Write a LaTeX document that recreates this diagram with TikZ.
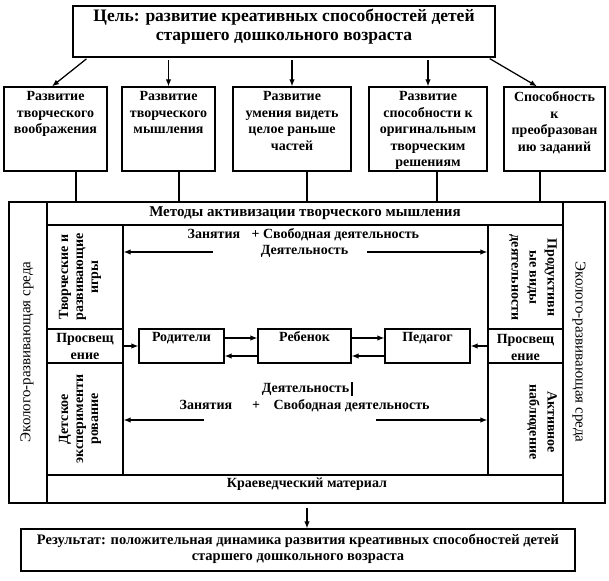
\documentclass[tikz,border=0pt]{standalone}
\usepackage{fontspec}
\setmainfont{Liberation Serif}
\usetikzlibrary{arrows.meta}
\begin{document}
\begin{tikzpicture}[x=1pt,y=-1pt,line width=1.25pt,
  cell/.style 2 args={draw,inner sep=0pt,minimum width=#1,minimum height=#2},
  lbl/.style={inner sep=0pt,font=\bfseries\fontsize{14}{16.5}\selectfont,align=center},
  eco/.style={inner sep=0pt,font=\fontsize{15}{17}\selectfont},
  arr/.style={-{Latex[length=7pt,width=5.5pt]}}]
\fill[white] (0,0) rectangle (609,580);
\useasboundingbox (0,0) rectangle (609,580);

% goal
\node[cell={422pt}{51pt}] (goal) at (284,31.5) {};
\node[lbl,font=\bfseries\fontsize{17.5}{19}\selectfont] (goalT) at (284,27) {Цель: развитие креативных способностей детей\\старшего дошкольного возраста};

% five boxes
\node[cell={103pt}{84pt}] (b1) at (55.5,129) {};
\node[cell={93pt}{84pt}] (b2) at (168.5,129) {};
\node[cell={118pt}{84pt}] (b3) at (292,129) {};
\node[cell={118pt}{84pt}] (b4) at (428,129) {};
\node[cell={101pt}{84pt}] (b5) at (554.5,129) {};
\node[lbl,anchor=north] (b1t) at (b1.north |- 0,91) {Развитие\\творческого\\воображения};
\node[lbl,anchor=north] (b2t) at (b2.north |- 0,91) {Развитие\\творческого\\мышления};
\node[lbl,anchor=north] (b3t) at (b3.north |- 0,91) {Развитие\\умения видеть\\целое раньше\\частей};
\node[lbl,anchor=north] (b4t) at (b4.north |- 0,91) {Развитие\\способности к\\оригинальным\\творческим\\решениям};
\node[lbl,anchor=north] (b5t) at (b5.north |- 0,91) {Способность\\к\\преобразован\\ию заданий};

% arrows from goal
\draw[arr,shorten <=2pt] (goal.south -| 88,0) -- (b1.north -| 52,0);
\draw[arr,shorten <=2pt] (goal.south -| b2.north) -- (b2.north);
\draw[arr,shorten <=2pt] (goal.south -| b3.north) -- (b3.north);
\draw[arr,shorten <=2pt] (goal.south -| b4.north) -- (b4.north);
\draw[arr,shorten <=2pt] (goal.south -| 488,0) -- (b5.north -| 537,0);

% frame and cells
\node[cell={596pt}{301pt}] (frame) at (307,352.5) {};
\node[cell={38pt}{301pt}] (ecoL) at (28,352.5) {};
\node[cell={42pt}{301pt}] (ecoR) at (584,352.5) {};
\node[cell={516pt}{23pt}] (met) at (305,213.5) {};
\node[cell={516pt}{28pt}] (kra) at (305,489) {};
\node[cell={76pt}{104pt}] (igry) at (85,277) {};
\node[cell={76pt}{34pt}] (prL) at (85,346) {};
\node[cell={76pt}{112pt}] (eks) at (85,419) {};
\node[cell={75pt}{104pt}] (prod) at (525.5,277) {};
\node[cell={75pt}{34pt}] (prR) at (525.5,346) {};
\node[cell={75pt}{112pt}] (nab) at (525.5,419) {};

% lines from boxes to frame
\draw (b1.south -| 76,0) -- (frame.north -| 76,0);
\draw (b2.south -| 179,0) -- (frame.north -| 179,0);
\draw (b3.south -| 307,0) -- (frame.north -| 307,0);
\draw (b4.south -| 437,0) -- (frame.north -| 437,0);
\draw (b5.south -| 540,0) -- (frame.north -| 540,0);

% frame texts
\node[eco,rotate=90] (ecoLt) at (27,352) {Эколого-развивающая среда};
\node[eco,rotate=-90] (ecoRt) at (579,352) {Эколого-развивающая среда};
\node[lbl,font=\bfseries\fontsize{15}{17}\selectfont] (metT) at (305,213) {Методы активизации творческого мышления};
\node[lbl] (kraT) at (307,484) {Краеведческий материал};
\node[lbl,rotate=90,font=\bfseries\fontsize{14}{15}\selectfont] (igryT) at (80,277) {Творческие и\\развивающие\\игры};
\node[lbl,rotate=90,font=\bfseries\fontsize{14}{15}\selectfont] (eksT) at (80,419) {Детское\\эксперименти\\рование};
\node[lbl,rotate=-90,font=\bfseries\fontsize{14}{18}\selectfont] (prodT) at (533,277.5) {Продуктивн\\ые виды\\деятельности};
\node[lbl,rotate=-90,font=\bfseries\fontsize{14}{18}\selectfont] (nabT) at (542,422) {Активное\\наблюдение};
\node[lbl,font=\bfseries\fontsize{14}{17}\selectfont] (prLT) at (85,346.5) {Просвещ\\ение};
\node[lbl,font=\bfseries\fontsize{14}{17}\selectfont] (prRT) at (525.5,347.5) {Просвещ\\ение};

% centre texts
\node[lbl,anchor=base west] (z1) at (187,238.5) {Занятия};
\node[lbl,anchor=base west] (s1) at (251,238.5) {+ Свободная деятельность};
\node[lbl,anchor=base] (d1) at (304.5,254.5) {Деятельность};
\node[lbl,anchor=base] (d2) at (305.5,392.5) {Деятельность};
\node[lbl,anchor=base west] (z2) at (179,409.5) {Занятия};
\node[lbl,anchor=base] (p2) at (256,409.5) {+};
\node[lbl,anchor=base west] (s2) at (273,409.5) {Свободная деятельность};
\draw[line width=1.8pt] ([xshift=2.5pt,yshift=-3.5pt]d2.base east) -- ([xshift=2.5pt,yshift=10.5pt]d2.base east);

% centre arrows
\coordinate (ua) at (213,252);
\coordinate (ub) at (367,252);
\coordinate (la) at (204,420);
\coordinate (lb) at (376,420);
\draw[arr] (ua) -- (ua -| igry.east);
\draw[arr] (ub) -- (ub -| prod.west);
\draw[arr] (la) -- (la -| eks.east);
\draw[arr] (lb) -- (lb -| nab.west);

% actors
\node[cell={85pt}{34pt}] (rod) at (181.5,346) {};
\node[cell={93pt}{34pt}] (reb) at (304.5,346) {};
\node[cell={85pt}{34pt}] (ped) at (427.5,346) {};
\node[lbl,anchor=base] (rodT) at (rod.center |- 0,341.5) {Родители};
\node[lbl,anchor=base] (rebT) at (reb.center |- 0,341.5) {Ребенок};
\node[lbl,anchor=base] (pedT) at (ped.center |- 0,341.5) {Педагог};
\draw[arr] (rod.east |- 0,338) -- (reb.west |- 0,338);
\draw[arr] (reb.east |- 0,338) -- (ped.west |- 0,338);
\draw[arr] (reb.west |- 0,356) -- (rod.east |- 0,356);
\draw[arr] (ped.west |- 0,356) -- (reb.east |- 0,356);
\draw[arr] (prL.east) -- (rod.west);
\draw[arr] (prR.west) -- (ped.east);

% result
\node[cell={554pt}{42pt}] (res) at (298,550) {};
\node[lbl,font=\bfseries\fontsize{14.5}{16}\selectfont] (resT) at (298,549) {Результат: положительная динамика развития креативных способностей детей\\старшего дошкольного возраста};
\draw[arr,shorten <=4pt] (frame.south -| 307,0) -- (res.north -| 307,0);
\end{tikzpicture}
\end{document}
